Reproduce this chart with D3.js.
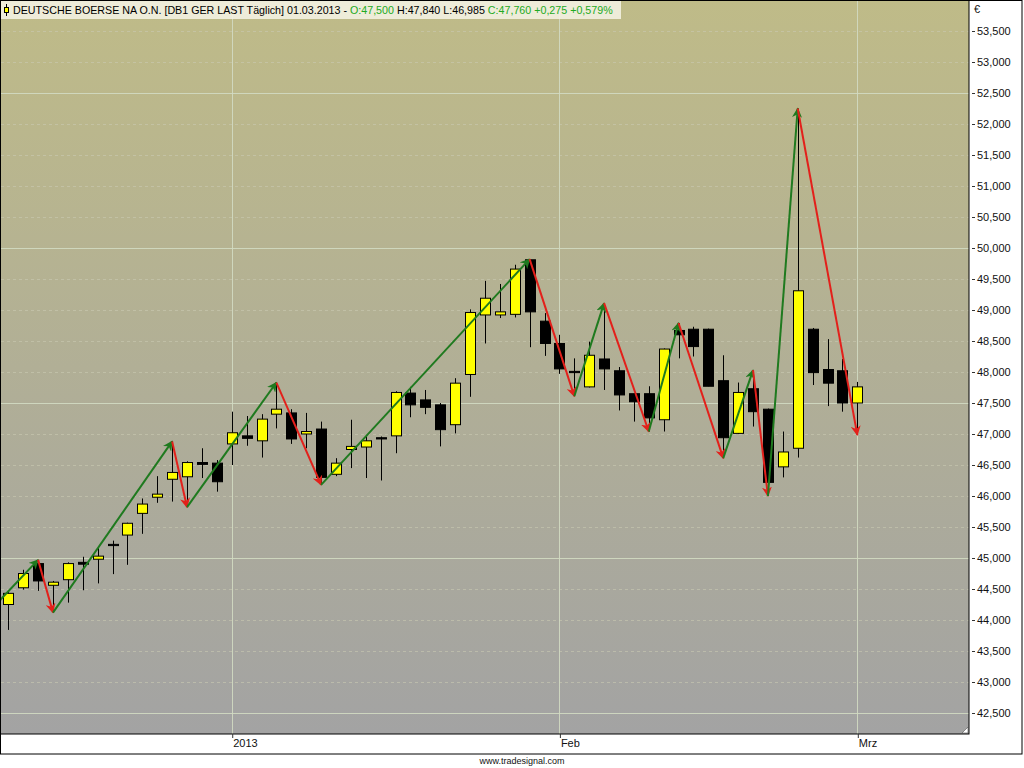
<!DOCTYPE html>
<html>
<head>
<meta charset="utf-8">
<script src="https://cdn.jsdelivr.net/npm/d3@7"></script>
<style>
  body { margin: 0; background: #fff; }
  text { font-family: "Liberation Sans", Arial, sans-serif; }
</style>
</head>
<body>
<svg id="chart" width="1024" height="768"></svg>
<script>
// daily candles DB1 (Xetra), 05.12.2012 - 01.03.2013
const dates = [
  "2012-12-05","2012-12-06","2012-12-07","2012-12-10","2012-12-11","2012-12-12","2012-12-13","2012-12-14",
  "2012-12-17","2012-12-18","2012-12-19","2012-12-20","2012-12-21","2012-12-27","2012-12-28",
  "2013-01-02","2013-01-03","2013-01-04","2013-01-07","2013-01-08","2013-01-09","2013-01-10","2013-01-11",
  "2013-01-14","2013-01-15","2013-01-16","2013-01-17","2013-01-18","2013-01-21","2013-01-22","2013-01-23",
  "2013-01-24","2013-01-25","2013-01-28","2013-01-29","2013-01-30","2013-01-31",
  "2013-02-01","2013-02-04","2013-02-05","2013-02-06","2013-02-07","2013-02-08","2013-02-11","2013-02-12",
  "2013-02-13","2013-02-14","2013-02-15","2013-02-18","2013-02-19","2013-02-20","2013-02-21","2013-02-22",
  "2013-02-25","2013-02-26","2013-02-27","2013-02-28","2013-03-01"
];
const opens = [
  44250,44520,44910,44560,44650,44930,44980,45220,45370,45720,45980,46270,46310,46540,46530,
  46840,46970,46890,47320,47340,47000,47080,46350,46750,46790,46940,46970,47660,47550,47470,47150,
  47960,48920,48920,48930,49810,48820,
  48460,48010,47760,48210,48020,47650,47650,47230,48670,48690,48690,47860,47010,47730,47400,46470,
  46770,48690,48040,48020,47500
];
const highs = [
  44480,44810,44970,44630,44930,45020,45160,45280,45570,45960,46320,46880,46560,46770,46580,
  47360,47290,47320,47830,47400,47340,47200,46610,47230,46960,46960,47690,47760,47710,47500,47900,
  49010,49470,49420,49730,49820,48950,
  48600,48220,48490,49110,48080,47660,47770,48380,48790,48730,48700,48270,47830,48030,47410,47040,
  52250,48710,48530,48210,47840
];
const lows = [
  43840,44490,44470,44120,44280,44480,44590,44740,44890,45390,45890,45910,45820,46290,46070,
  46500,46810,46620,47090,46840,46770,46180,46320,46450,46290,46250,46690,47270,47320,46800,47010,
  47600,48460,48870,48880,48400,48260,
  47970,47610,47750,47710,47380,47200,47040,47040,48220,48250,47770,46610,47000,47120,46000,46300,
  46620,47790,47450,47360,46985
];
const closes = [
  44430,44750,44630,44610,44910,44900,45030,45200,45560,45870,46030,46380,46540,46510,46230,
  47020,46930,47240,47400,46920,47040,46300,46530,46800,46890,46920,47670,47470,47430,47070,47820,
  48960,49190,48970,49660,48970,48460,
  48050,47990,48270,48050,47630,47520,47260,48370,48600,48410,47770,46940,47670,47360,46220,46710,
  49310,47990,47820,47500,47760
];

// zigzag swing points: bar index, price (index -1 = swing low before the first bar)
const pivotIdx = [-1, 2, 3, 11, 12, 18, 21, 35, 38, 40, 43, 45, 48, 50, 51, 53, 57];
const pivotVal = [44210, 44970, 44120, 46880, 45820, 47830, 46180, 49820, 47610, 49110, 47040, 48790, 46610, 48030, 46000, 52250, 46985];

const xTickDates = ["2013-01-02", "2013-02-01", "2013-03-01"];
const xTickLabels = ["2013", "Feb", "Mrz"];
const yTicks = d3.range(42500, 53501, 500);

const W = 1024, H = 768;
const plot = { left: 1, top: 1, right: 969, bottom: 734 };
const frameBottom = 754, frameRight = 1022;

const svg = d3.select("#chart");

const defs = svg.append("defs");
const grad = defs.append("linearGradient")
  .attr("id", "bg").attr("x1", 0).attr("y1", 0).attr("x2", 0).attr("y2", 1);
grad.append("stop").attr("offset", "0%").attr("stop-color", "#bfbb88");
grad.append("stop").attr("offset", "50%").attr("stop-color", "#b1af96");
grad.append("stop").attr("offset", "100%").attr("stop-color", "#a3a3a3");

defs.append("clipPath").attr("id", "clip")
  .append("rect")
  .attr("x", plot.left).attr("y", plot.top)
  .attr("width", plot.right - plot.left).attr("height", plot.bottom - plot.top);

const arrowColors = { up: "#1f7a1f", down: "#e3201b" };
Object.entries(arrowColors).forEach(([k, c]) => {
  defs.append("marker")
    .attr("id", "arrow-" + k)
    .attr("viewBox", "0 0 10 10")
    .attr("refX", 9).attr("refY", 5)
    .attr("markerWidth", 5).attr("markerHeight", 5)
    .attr("markerUnits", "strokeWidth")
    .attr("orient", "auto")
    .append("path")
    .attr("d", "M0,0 L10,5 L0,10 L3,5 Z")
    .attr("fill", c);
});

// white page + outer frame
svg.append("rect").attr("width", W).attr("height", H).attr("fill", "#fff");
svg.append("rect")
  .attr("x", 0.5).attr("y", 0.5)
  .attr("width", frameRight - 0.5).attr("height", frameBottom - 0.5)
  .attr("fill", "#fff").attr("stroke", "#000");

// plot background
svg.append("rect")
  .attr("x", plot.left).attr("y", plot.top)
  .attr("width", plot.right - plot.left).attr("height", plot.bottom - plot.top)
  .attr("fill", "url(#bg)");

const x = d3.scalePoint().domain(dates).range([8.3, 857.3]);
const step = x.step();
const xi = i => x(dates[0]) + i * step;
const y = d3.scaleLinear().domain([42500, 53500]).range([713, 31]);

const g = svg.append("g").attr("clip-path", "url(#clip)");

// grid
g.selectAll(".hgrid")
  .data(yTicks)
  .enter()
  .append("line")
  .attr("x1", plot.left).attr("x2", plot.right)
  .attr("y1", d => Math.round(y(d)) + 0.5).attr("y2", d => Math.round(y(d)) + 0.5)
  .attr("stroke", d => d % 2500 === 0 ? "#d2dac2" : "#c9c9b2")
  .attr("stroke-opacity", d => d % 2500 === 0 ? 0.9 : 0.6)
  .attr("stroke-dasharray", d => d % 2500 === 0 ? null : "3,3");

g.selectAll(".vgrid")
  .data(xTickDates)
  .enter()
  .append("line")
  .attr("x1", d => Math.round(x(d)) + 0.5).attr("x2", d => Math.round(x(d)) + 0.5)
  .attr("y1", plot.top).attr("y2", plot.bottom)
  .attr("stroke", "#d2dac2").attr("stroke-opacity", 0.9);

// candles
const bars = dates.map((d, i) => ({ d, o: opens[i], h: highs[i], l: lows[i], c: closes[i] }));
const bodyW = 10;

const candle = g.selectAll(".candle")
  .data(bars)
  .enter()
  .append("g");

candle.append("line")
  .attr("x1", d => Math.round(x(d.d)) + 0.5).attr("x2", d => Math.round(x(d.d)) + 0.5)
  .attr("y1", d => y(d.h)).attr("y2", d => y(d.l))
  .attr("stroke", "#000").attr("stroke-width", 1);

candle.append("rect")
  .attr("x", d => Math.round(x(d.d)) - bodyW / 2 + 0.5)
  .attr("y", d => y(Math.max(d.o, d.c)))
  .attr("width", bodyW)
  .attr("height", d => Math.max(1, Math.abs(y(d.o) - y(d.c))))
  .attr("fill", d => d.c >= d.o ? "#ffff00" : "#000")
  .attr("stroke", "#000").attr("stroke-width", 1);

// zigzag arrows
const segs = pivotIdx.slice(1).map((p, k) => ({
  i0: pivotIdx[k], v0: pivotVal[k], i1: p, v1: pivotVal[k + 1]
}));

g.selectAll(".zz")
  .data(segs)
  .enter()
  .append("line")
  .attr("x1", d => xi(d.i0)).attr("y1", d => y(d.v0))
  .attr("x2", d => xi(d.i1)).attr("y2", d => y(d.v1))
  .attr("stroke", d => d.v1 > d.v0 ? arrowColors.up : arrowColors.down)
  .attr("stroke-width", 2)
  .attr("marker-end", d => d.v1 > d.v0 ? "url(#arrow-up)" : "url(#arrow-down)");

// plot border
svg.append("rect")
  .attr("x", 0.5).attr("y", 0.5)
  .attr("width", plot.right - 0.5).attr("height", plot.bottom - 0.5)
  .attr("fill", "none").attr("stroke", "#000");

// resize grip in the corner
svg.append("path")
  .attr("d", `M${plot.right - 7},${plot.bottom - 1} L${plot.right - 1},${plot.bottom - 7} L${plot.right - 1},${plot.bottom - 1} Z`)
  .attr("fill", "#fff").attr("stroke", "#555").attr("stroke-width", 0.6);

// right axis
const yAxis = svg.append("g")
  .attr("transform", `translate(${plot.right + 3},0)`)
  .call(d3.axisRight(y).tickValues(yTicks).tickSize(3).tickPadding(2).tickFormat(d3.format(",")));
yAxis.select(".domain").remove();
yAxis.selectAll("text").attr("font-size", 11).attr("fill", "#111").attr("font-family", "Liberation Sans, Arial, sans-serif");
yAxis.selectAll("line").attr("stroke", "#333");

svg.append("text")
  .attr("x", plot.right + 5).attr("y", 13)
  .attr("font-size", 11).attr("fill", "#111")
  .text("€");

// bottom axis
const xAxis = svg.append("g")
  .attr("transform", `translate(0,${plot.bottom})`)
  .call(d3.axisBottom(x).tickValues(xTickDates).tickSize(4).tickFormat((d, i) => xTickLabels[i]));
xAxis.select(".domain").remove();
xAxis.selectAll(".tick line").attr("stroke", "#333").attr("transform", "translate(0.5,0)");
xAxis.selectAll("text")
  .attr("text-anchor", "start").attr("x", 1).attr("y", 5)
  .attr("font-size", 11).attr("fill", "#111")
  .attr("font-family", "Liberation Sans, Arial, sans-serif");

// header / legend
svg.append("rect")
  .attr("x", 1).attr("y", 1).attr("width", 620).attr("height", 18)
  .attr("fill", "#f3f2e2").attr("fill-opacity", 0.9);
svg.append("line")
  .attr("x1", 6.5).attr("x2", 6.5).attr("y1", 4).attr("y2", 16)
  .attr("stroke", "#000");
svg.append("rect")
  .attr("x", 4.5).attr("y", 7.5).attr("width", 4).attr("height", 5)
  .attr("fill", "#ffff00").attr("stroke", "#000");

const header = svg.append("text")
  .attr("x", 13).attr("y", 14)
  .attr("font-size", 10.7);
const headerParts = [
  ["DEUTSCHE BOERSE NA O.N. [DB1 GER LAST Täglich] 01.03.2013 - ", "#000"],
  ["O:47,500", "#22aa22"],
  [" H:47,840 L:46,985 ", "#000"],
  ["C:47,760 +0,275 +0,579%", "#22aa22"]
];
header.selectAll("tspan")
  .data(headerParts)
  .enter()
  .append("tspan")
  .attr("fill", d => d[1])
  .text(d => d[0]);

svg.append("text")
  .attr("x", 522).attr("y", 764)
  .attr("text-anchor", "middle")
  .attr("font-size", 9).attr("fill", "#111")
  .text("www.tradesignal.com");
</script>
</body>
</html>
